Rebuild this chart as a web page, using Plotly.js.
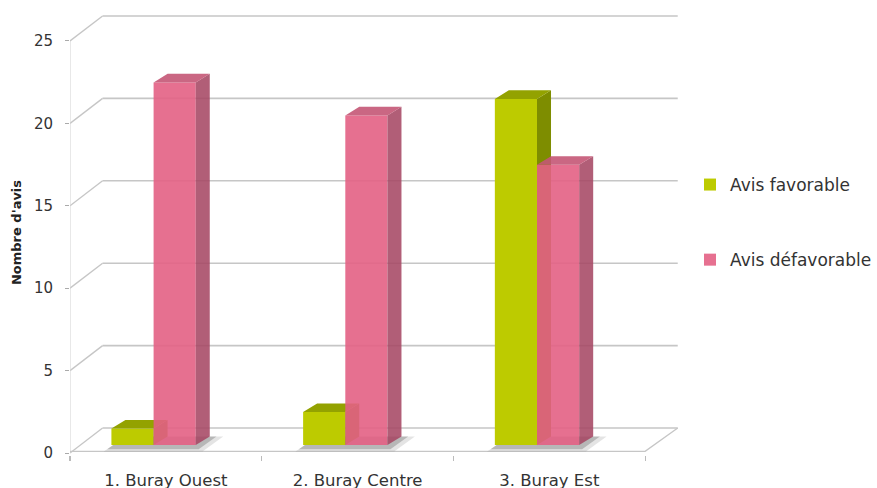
<!DOCTYPE html>
<html>
<head>
<meta charset="utf-8">
<script src="https://cdn.plot.ly/plotly-3.0.1.min.js"></script>
<style>html,body{margin:0;padding:0;background:#fff;}#chart{width:877px;height:488px;}</style>
</head>
<body>
<div id="chart"></div>
<script>
// ---- data ----
const categories = ['1. Buray Ouest', '2. Buray Centre', '3. Buray Est'];
const favorable = [1, 2, 21];
const defavorable = [22, 20, 17];
const seriesNames = ['Avis favorable', 'Avis défavorable'];
const yTicks = [0, 5, 10, 15, 20, 25];

// ---- 3D projection constants (in axis units) ----
const wallDX = 0.17, wallDY = 1.517;     // depth of floor / walls
const barBase = 0.485;                   // bars sit part-way into the floor
const barDX = 0.073, barDY = 0.52;       // depth of a bar
const barW = 0.22, greenOff = -0.284, pinkOff = -0.064;
const xStart = -0.5, xEnd = categories.length - 0.5;

const idx = categories.map((_, i) => i);
const traces = [];

// back wall grid lines
const gx = [], gy = [];
yTicks.forEach(t => { gx.push(xStart + wallDX, xEnd + wallDX, null); gy.push(t + wallDY, t + wallDY, null); });
traces.push({type:'scatter', mode:'lines', x:gx, y:gy, line:{color:'#c6c6c6', width:1.6}, hoverinfo:'skip', showlegend:false});
// left wall diagonals
const dx = [], dy = [];
yTicks.forEach(t => { dx.push(xStart, xStart + wallDX, null); dy.push(t, t + wallDY, null); });
traces.push({type:'scatter', mode:'lines', x:dx, y:dy, line:{color:'#c6c6c6', width:1.4}, hoverinfo:'skip', showlegend:false});
// front vertical edge
traces.push({type:'scatter', mode:'lines', x:[xStart, xStart], y:[0, yTicks[yTicks.length-1]], line:{color:'#d2d2d2', width:1}, hoverinfo:'skip', showlegend:false});
// floor front & right edges
traces.push({type:'scatter', mode:'lines', x:[xStart, xEnd, xEnd + wallDX], y:[0.1, 0.1, wallDY], line:{color:'#c6c6c6', width:1.4}, hoverinfo:'skip', showlegend:false});

// shadows
const sx = [], sy = [], sx2 = [], sy2 = [];
idx.forEach(c => {
  const l = c + greenOff, r = c + pinkOff + barW;
  sx.push(l - 0.04, r + 0.035, r + barDX + 0.07, l + barDX, l - 0.04, null);
  sy.push(barBase - 0.4, barBase - 0.4, barBase + barDY, barBase + barDY, barBase - 0.4, null);
  sx2.push(l - 0.022, r + 0.015, r + barDX + 0.035, l + barDX, l - 0.022, null);
  sy2.push(barBase - 0.25, barBase - 0.25, barBase + barDY, barBase + barDY, barBase - 0.25, null);
});
traces.push({type:'scatter', mode:'lines', x:sx, y:sy, fill:'toself', fillcolor:'rgba(120,120,120,0.2)', line:{width:0}, hoverinfo:'skip', showlegend:false});
traces.push({type:'scatter', mode:'lines', x:sx2, y:sy2, fill:'toself', fillcolor:'rgba(80,80,80,0.3)', line:{width:0}, hoverinfo:'skip', showlegend:false});

function faces(values, off) {
  const side = {x:[], y:[]}, top = {x:[], y:[]};
  values.forEach((v, c) => {
    const x0 = c + off, x1 = x0 + barW, yt = barBase + v;
    side.x.push(x1, x1, x1 + barDX, x1 + barDX, x1, null);
    side.y.push(barBase, yt, yt + barDY, barBase + barDY, barBase, null);
    top.x.push(x0, x1, x1 + barDX, x0 + barDX, x0, null);
    top.y.push(yt, yt, yt + barDY, yt + barDY, yt, null);
  });
  return {side, top};
}

// green series (layer y2)
const gF = faces(favorable, greenOff);
traces.push({type:'bar', name:seriesNames[0], legendgroup:'g1', x:idx, y:favorable, base:barBase, width:barW, offset:greenOff,
  marker:{color:'#bdcb00', line:{width:0}}, yaxis:'y2', hoverinfo:'skip'});
traces.push({type:'scatter', mode:'lines', x:gF.side.x, y:gF.side.y, fill:'toself', fillcolor:'#7e8d00', line:{width:0}, yaxis:'y2', hoverinfo:'skip', showlegend:false});
traces.push({type:'scatter', mode:'lines', x:gF.top.x, y:gF.top.y, fill:'toself', fillcolor:'#93a200', line:{width:0}, yaxis:'y2', hoverinfo:'skip', showlegend:false});

// pink series (layer y3)
const pF = faces(defavorable, pinkOff);
traces.push({type:'bar', name:seriesNames[1], legendgroup:'g2', x:idx, y:defavorable, base:barBase, width:barW, offset:pinkOff,
  marker:{color:'rgba(227,96,132,0.9)', line:{width:0}}, yaxis:'y3', hoverinfo:'skip'});
traces.push({type:'scatter', mode:'lines', x:pF.side.x, y:pF.side.y, fill:'toself', fillcolor:'rgba(166,72,100,0.88)', line:{width:0}, yaxis:'y3', hoverinfo:'skip', showlegend:false});
traces.push({type:'scatter', mode:'lines', x:pF.top.x, y:pF.top.y, fill:'toself', fillcolor:'rgba(196,86,118,0.9)', line:{width:0}, yaxis:'y3', hoverinfo:'skip', showlegend:false});

const yRange = [-0.121, 26.88];
const layout = {
  width: 877, height: 488,
  margin: {l:70, r:187, t:10, b:33},
  paper_bgcolor: '#fff', plot_bgcolor: 'rgba(0,0,0,0)',
  font: {family: 'DejaVu Sans, sans-serif', color: '#333', size: 14},
  hovermode: false,
  showlegend: true,
  barmode: 'overlay',
  xaxis: {range:[xStart, 2.734], showgrid:false, zeroline:false, showline:false,
    tickmode:'array', tickvals:idx, ticktext:categories, ticks:'', ticklabelstandoff:13,
    tickfont:{size:16.5, color:'#333'},
    minor:{tickmode:'array', tickvals:[xStart, 0.5, 1.5, xEnd], ticks:'outside', ticklen:5, tickcolor:'#bbb', tickwidth:1.2, showgrid:false}},
  yaxis: {range:yRange, showgrid:false, zeroline:false, showline:false,
    tickmode:'array', tickvals:yTicks, ticks:'outside', ticklen:4, tickcolor:'#aaa', ticklabelstandoff:9,
    tickfont:{size:15, color:'#333'},
    title:{text:"Nombre d'avis", font:{size:13, color:'#222', weight:'bold'}, standoff:9}},
  yaxis2: {range:yRange, overlaying:'y', visible:false},
  yaxis3: {range:yRange, overlaying:'y', visible:false},
  legend: {xref:'container', yref:'container', x:690/877, y:1 - 167/488, xanchor:'left', yanchor:'top',
    font:{size:17, color:'#333'}, traceorder:'grouped', tracegroupgap:50, bgcolor:'rgba(0,0,0,0)'}
};

Plotly.newPlot('chart', traces, layout, {staticPlot:true, displayModeBar:false});
</script>
</body>
</html>
